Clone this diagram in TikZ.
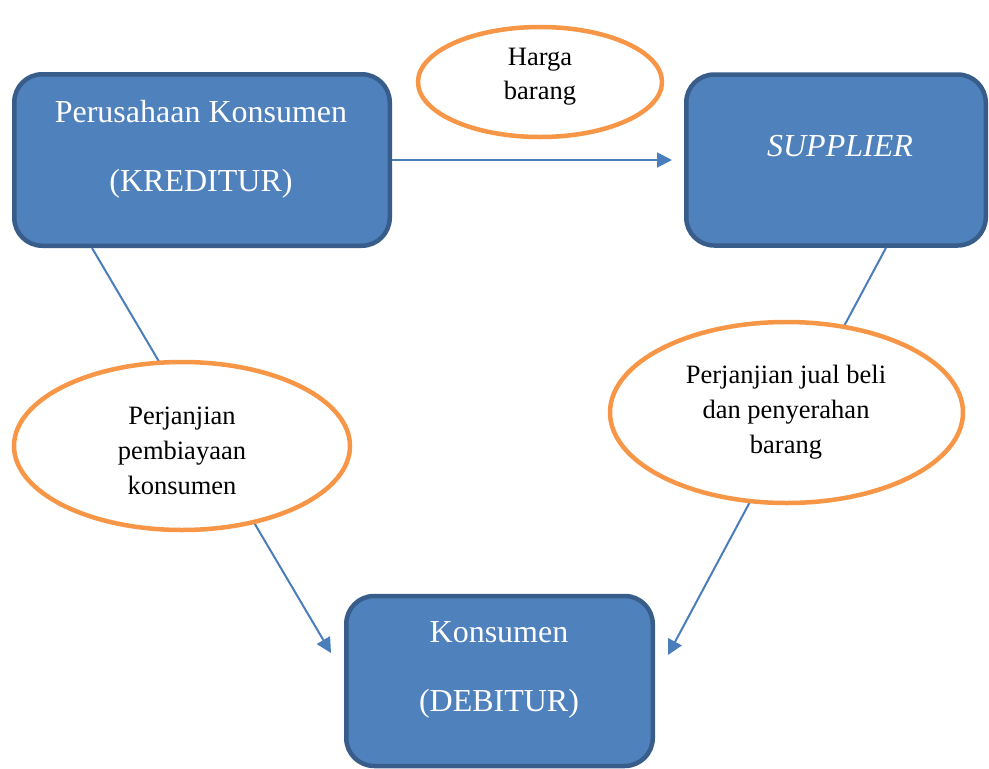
\documentclass[tikz,border=0pt]{standalone}
\usepackage{fontspec}
\setmainfont{Liberation Serif}
\usetikzlibrary{arrows.meta,shapes.geometric}
\definecolor{boxfill}{HTML}{4F81BD}
\definecolor{boxline}{HTML}{385D8A}
\definecolor{ellline}{HTML}{F79646}
\definecolor{connline}{HTML}{4A7EBB}
\tikzset{
  bluebox/.style={draw=boxline, fill=boxfill, line width=4.5pt, rounded corners=28pt, inner sep=0pt},
  boxtext/.style={text=white, align=center, inner sep=0pt, font=\fontsize{32}{69}\selectfont},
  oval/.style={ellipse, draw=ellline, fill=white, line width=4.5pt, inner sep=0pt},
  ovaltext/.style={align=center, inner sep=0pt, font=\fontsize{26.5}{35}\selectfont},
  conn/.style={draw=connline, line width=2pt},
  arr/.style={conn, -{Triangle[length=15pt,width=15pt]}}
}
\begin{document}
\begin{tikzpicture}[x=1pt,y=-1pt]
\useasboundingbox (0,0) rectangle (989,769);
% boxes
\node[bluebox, minimum width=375.5pt, minimum height=171.5pt] (A) at (202,160) {};
\node[bluebox, minimum width=299.5pt, minimum height=171pt] (S) at (836,160) {};
\node[bluebox, minimum width=306.5pt, minimum height=170pt] (D) at (499.5,681) {};
\node[boxtext] (At) at (201,149.5) {Perusahaan Konsumen\\(KREDITUR)};
\node[boxtext] (St) at (840,146.4) {\itshape SUPPLIER};
\node[boxtext] (Dt) at (499,670) {Konsumen\\(DEBITUR)};
% connectors
\draw[arr, shorten >=12pt] (A.east) -- (S.west);
\draw[arr] ([xshift=-110pt]A.south) -- ([xshift=-13pt,yshift=28pt]D.west);
\draw[arr] ([xshift=50pt]S.south) -- ([xshift=13pt,yshift=26pt]D.east);
% ovals
\node[oval, minimum width=244pt, minimum height=110pt] (H) at (540,82) {};
\node[ovaltext, font=\fontsize{26.5}{34}\selectfont] (Ht) at (540,77) {Harga\\barang};
\node[oval, minimum width=336pt, minimum height=168pt] (L) at (182,446) {};
\node[ovaltext] (Lt) at (182,451) {Perjanjian\\pembiayaan\\konsumen};
\node[oval, minimum width=353pt, minimum height=181pt] (R) at (786.5,412.5) {};
\node[ovaltext] (Rt) at (786,412) {Perjanjian jual beli\\dan penyerahan\\barang};
\end{tikzpicture}
\end{document}
